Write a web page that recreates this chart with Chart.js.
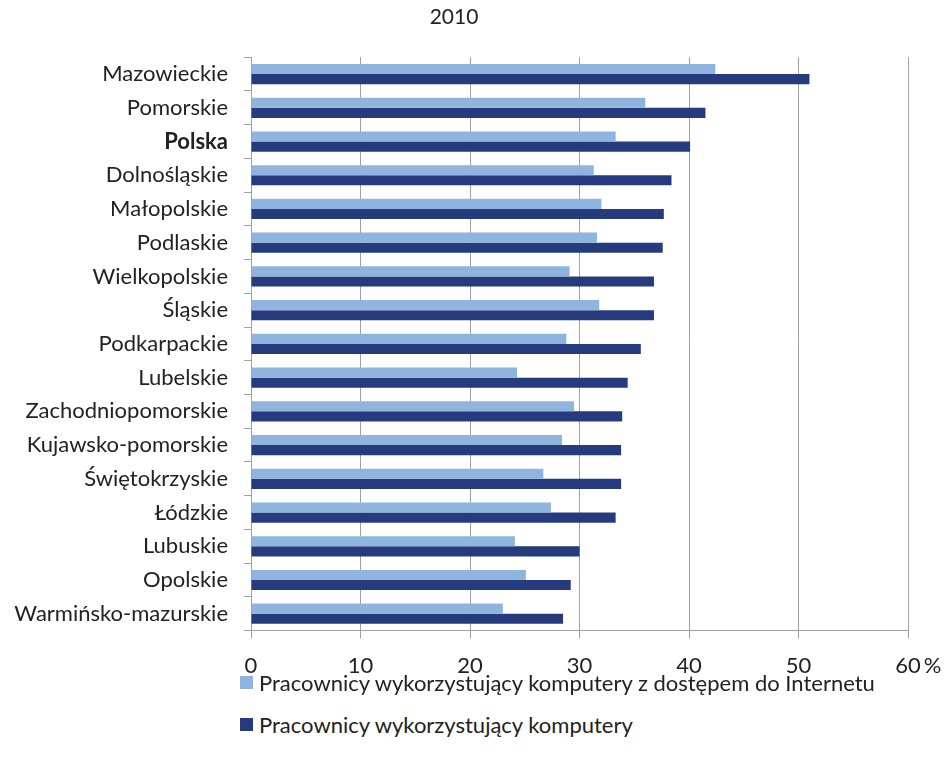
<!DOCTYPE html>
<html>
<head>
<meta charset="utf-8">
<script src="https://cdn.jsdelivr.net/npm/chart.js@4/dist/chart.umd.min.js"></script>
<style>
    body { margin: 0; background: #fff; }
    #wrap { position: relative; width: 952px; height: 767px; }
    #chartBox { position: absolute; left: 0; top: 0; width: 952px; height: 700px; }
    .legend { position: absolute; left: 240px; font-family: Lato, sans-serif; font-size: 22px; color: #222; display: flex; align-items: center; }
    .legend span.box { display: inline-block; width: 13px; height: 13px; margin-right: 6px; }
</style>
</head>
<body>
<div id="wrap">
    <div id="chartBox"><canvas id="chart"></canvas></div>
    <div class="legend" id="leg0" style="top: 669px;"></div>
    <div class="legend" id="leg1" style="top: 711px;"></div>
</div>
<script>
// Chart data
const regions = ['Mazowieckie', 'Pomorskie', 'Polska', 'Dolnośląskie', 'Małopolskie', 'Podlaskie', 'Wielkopolskie', 'Śląskie', 'Podkarpackie', 'Lubelskie', 'Zachodniopomorskie', 'Kujawsko-pomorskie', 'Świętokrzyskie', 'Łódzkie', 'Lubuskie', 'Opolskie', 'Warmińsko-mazurskie'];
const withInternet = [42.4, 36.0, 33.3, 31.3, 32.0, 31.6, 29.1, 31.8, 28.8, 24.3, 29.5, 28.4, 26.7, 27.4, 24.1, 25.1, 23.0];
const withComputer = [51.0, 41.5, 40.1, 38.4, 37.7, 37.6, 36.8, 36.8, 35.6, 34.4, 33.9, 33.8, 33.8, 33.3, 30.0, 29.2, 28.5];
const seriesNames = ['Pracownicy wykorzystujący komputery z dostępem do Internetu', 'Pracownicy wykorzystujący komputery'];
const xTicks = [0, 10, 20, 30, 40, 50, 60];

const colors = ['#8fb4de', '#263a7e'];
const FONT = 'Lato, sans-serif';
const SIZE = 22;
const X_PAD = 14;

// "%" after the last tick label
const percentSign = {
    id: 'percentSign',
    afterDraw(chart) {
        const x = chart.scales.x;
        const ctx = chart.ctx;
        ctx.save();
        ctx.font = SIZE + 'px ' + FONT;
        const w = ctx.measureText('60').width;
        ctx.fillStyle = '#222';
        ctx.textBaseline = 'middle';
        ctx.textAlign = 'left';
        ctx.fillText('%', x.getPixelForValue(60) + w / 2 + 3, x.top + 8 + X_PAD + SIZE * 0.6);
        ctx.restore();
    }
};

new Chart(document.getElementById('chart'), {
    type: 'bar',
    data: {
        labels: regions,
        datasets: [
            { label: seriesNames[0], data: withInternet, backgroundColor: colors[0], borderWidth: 0 },
            { label: seriesNames[1], data: withComputer, backgroundColor: colors[1], borderWidth: 0 }
        ]
    },
    options: {
        indexAxis: 'y',
        responsive: true,
        maintainAspectRatio: false,
        animation: false,
        datasets: { bar: { categoryPercentage: 0.6, barPercentage: 1.0 } },
        layout: { padding: { left: 0, right: 44, bottom: 7, top: 0 } },
        plugins: {
            legend: { display: false },
            tooltip: { enabled: false },
            title: {
                display: true,
                text: '2010',
                color: '#222',
                font: { family: FONT, size: 21, weight: 'normal' },
                padding: { top: 5, bottom: 27 }
            }
        },
        scales: {
            x: {
                min: 0,
                max: 60,
                afterBuildTicks: axis => { axis.ticks = xTicks.map(v => ({ value: v })); },
                grid: { color: '#a0a0a0', tickLength: 8, drawTicks: true },
                border: { color: '#a0a0a0' },
                ticks: { color: '#222', padding: X_PAD, font: { family: FONT, size: SIZE } }
            },
            y: {
                afterFit: axis => { axis.width = 251; },
                grid: { drawOnChartArea: false, offset: true, tickLength: 7, color: '#a0a0a0' },
                border: { color: '#a0a0a0' },
                ticks: {
                    color: '#222',
                    padding: 16,
                    font: ctx => ({ family: FONT, size: SIZE, weight: regions[ctx.index] === 'Polska' ? 'bold' : 'normal' })
                }
            }
        }
    },
    plugins: [percentSign]
});

// Legend
seriesNames.forEach((name, i) => {
    const el = document.getElementById('leg' + i);
    el.innerHTML = `<span class="box" style="background:${colors[i]}"></span>${name}`;
});
</script>
</body>
</html>
